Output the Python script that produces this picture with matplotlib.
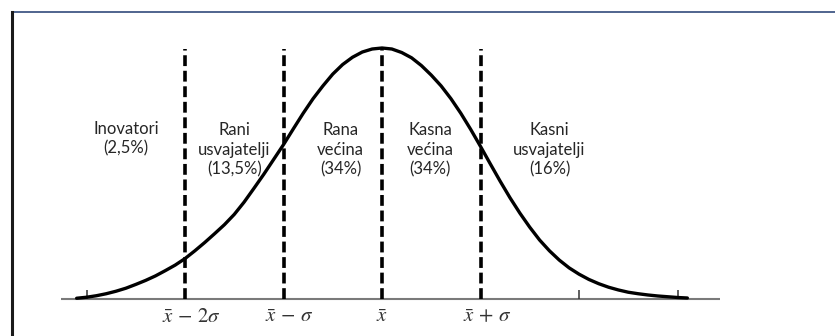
import matplotlib.pyplot as plt
from matplotlib.lines import Line2D

plt.rcParams['font.family'] = ['Lato', 'DejaVu Sans']
plt.rcParams['mathtext.fontset'] = 'stix'

# krivulja ocitana sa slike (x u jedinicama sigma, relativna visina, vrh = 1)
curve_x = [-3.1, -3.0, -2.9, -2.8, -2.7, -2.6, -2.5, -2.4, -2.3, -2.2, -2.1,
           -2.0, -1.9, -1.8, -1.7, -1.6, -1.5, -1.4, -1.3, -1.2, -1.1,
           -1.0, -0.9, -0.8, -0.7, -0.6, -0.5, -0.4, -0.3, -0.2, -0.1,
           0.0, 0.1, 0.2, 0.3, 0.4, 0.5, 0.6, 0.7, 0.8, 0.9,
           1.0, 1.1, 1.2, 1.3, 1.4, 1.5, 1.6, 1.7, 1.8, 1.9,
           2.0, 2.1, 2.2, 2.3, 2.4, 2.5, 2.6, 2.7, 2.8, 2.9, 3.0, 3.1]
curve_y = [0.003, 0.007, 0.013, 0.021, 0.031, 0.043, 0.058, 0.074, 0.092, 0.113, 0.135,
           0.161, 0.192, 0.225, 0.260, 0.296, 0.337, 0.386, 0.441, 0.497, 0.556,
           0.615, 0.678, 0.740, 0.798, 0.849, 0.896, 0.934, 0.963, 0.984, 0.996,
           1.000, 0.996, 0.982, 0.961, 0.930, 0.892, 0.849, 0.798, 0.740, 0.676,
           0.608, 0.538, 0.469, 0.403, 0.342, 0.286, 0.235, 0.192, 0.155, 0.124,
           0.099, 0.078, 0.061, 0.047, 0.036, 0.027, 0.021, 0.016, 0.012, 0.009, 0.006, 0.004]

# granice kategorija (isprekidane linije) i oznake
boundaries = [-2, -1, 0, 1]
boundary_labels = [r'$\bar{x}\,-\,2\sigma$', r'$\bar{x}\,-\,\sigma$', r'$\bar{x}$', r'$\bar{x}\,+\,\sigma$']
minor_ticks = [-3, 2, 3]

categories = ['Inovatori', 'Rani\nusvajatelji', 'Rana\nvećina', 'Kasna\nvećina', 'Kasni\nusvajatelji']
shares = ['(2,5%)', '(13,5%)', '(34%)', '(34%)', '(16%)']

# polozaji tekstova (x u sigma, y relativno)
label_x = [-2.60, -1.50, -0.42, 0.49, 1.70]
label_y = [0.64, 0.595, 0.595, 0.595, 0.595]
tick_label_x = [-1.94, -0.94, 0.0, 1.07]

fig = plt.figure(figsize=(8.35, 3.36), dpi=100)
ax = fig.add_axes([0, 0, 1, 1])
ax.set_xlim(-382 / 98.5, (835 - 382) / 98.5)
ax.set_ylim(-37 / 251, 299 / 251)
ax.axis('off')

# os
ax.hlines(0, -3.26, 3.43, color='#7a7a7a', lw=1.5, zorder=1)
ax.vlines(minor_ticks, 0, 0.034, color='#333333', lw=1.1, zorder=2)

# isprekidane linije
for b in boundaries:
    ax.plot([b, b], [0, 0.996], color='black', lw=2.6, dashes=(3.0, 1.3),
            solid_capstyle='butt', zorder=2)

# krivulja
ax.plot(curve_x, curve_y, color='black', lw=2.4, solid_joinstyle='round',
        solid_capstyle='round', zorder=3)

for name, share, lx, ly in zip(categories, shares, label_x, label_y):
    ax.text(lx, ly, name + '\n' + share, ha='center', va='center', fontsize=12,
            color='#262626', linespacing=1.25)

for lbl, tx in zip(boundary_labels, tick_label_x):
    ax.text(tx, -0.068, lbl, ha='center', va='center', fontsize=15, color='#333333')

# okvir slajda
fig.add_artist(Line2D([13 / 835, 1], [1 - 12 / 336, 1 - 12 / 336], color='#1f3b70', lw=1.1))
fig.add_artist(Line2D([11.5 / 835, 11.5 / 835], [0, 1 - 12 / 336], color='#1a1a1a', lw=2.2))

fig.savefig('out.png', dpi=100)
